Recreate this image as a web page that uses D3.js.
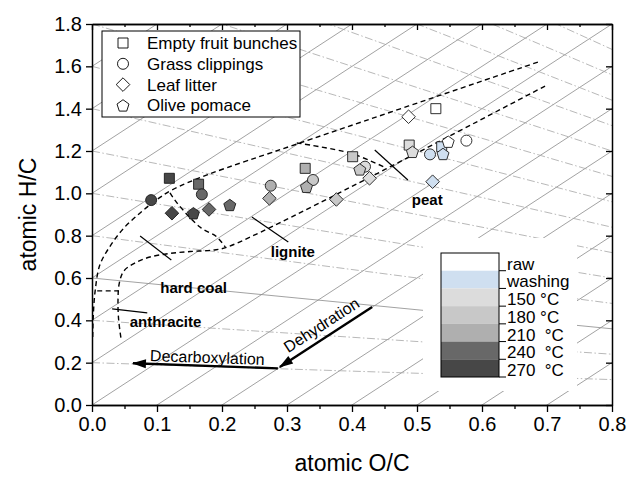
<!DOCTYPE html>
<html>
<head>
<meta charset="UTF-8">
<script src="https://d3js.org/d3.v7.min.js"></script>
<style>
  body { margin: 0; background: #fff; }
  svg text { font-family: "Liberation Sans", Arial, sans-serif; }
</style>
<title>van Krevelen diagram</title>
</head>
<body>
<div id="chart"></div>
<script>

// ---- data ----
var categories = ["Empty fruit bunches", "Grass clippings", "Leaf litter", "Olive pomace"];
var treatments = ["raw", "washing", "150 \u00b0C", "180 \u00b0C", "210  \u00b0C", "240  \u00b0C", "270  \u00b0C"];

// one value per treatment, same order as treatments
var efbOC = [0.529, 0.538, 0.488, 0.401, 0.328, 0.164, 0.119];
var efbHC = [1.400, 1.220, 1.228, 1.173, 1.118, 1.043, 1.071];
var gcOC  = [0.576, 0.520, 0.420, 0.340, 0.275, 0.169, 0.091];
var gcHC  = [1.249, 1.184, 1.126, 1.063, 1.036, 0.995, 0.968];
var llOC  = [0.487, 0.524, 0.427, 0.376, 0.273, 0.180, 0.123];
var llHC  = [1.362, 1.055, 1.071, 0.971, 0.976, 0.924, 0.906];
var opOC  = [0.548, 0.540, 0.493, 0.412, 0.330, 0.212, 0.156];
var opHC  = [1.244, 1.186, 1.196, 1.113, 1.031, 0.945, 0.906];

var xTicks = [0.0, 0.1, 0.2, 0.3, 0.4, 0.5, 0.6, 0.7, 0.8];
var xMinorTicks = [0.05, 0.15, 0.25, 0.35, 0.45, 0.55, 0.65, 0.75];
var yTicks = [0.0, 0.2, 0.4, 0.6, 0.8, 1.0, 1.2, 1.4, 1.6, 1.8];

// reference lines : H/C = 2*O/C + c (dehydration) and H/C = h0*(1 - O/C/2)
var dehydIntercepts = [-1.4, -1.2, -1.0, -0.8, -0.6, -0.4, -0.2, 0.0, 0.2, 0.4, 0.6, 0.8, 1.0, 1.2, 1.4, 1.6, 1.8];
var decarbStarts = [0.2, 0.4, 0.6, 0.8, 1.0, 1.2, 1.4, 1.6, 1.8, 2.0, 2.2, 2.4, 2.6, 2.8, 3.0];

// coal band boundaries (dashed)
var upperOC = [0.686, 0.320, 0.177, 0.123, 0.097, 0.074, 0.049, 0.028, 0.012, 0.005, 0.002, 0.001];
var upperHC = [1.620, 1.238, 1.087, 1.016, 0.964, 0.907, 0.836, 0.751, 0.661, 0.543, 0.425, 0.307];
var lowerOC = [0.697, 0.208, 0.186, 0.151, 0.120, 0.089, 0.066, 0.049, 0.042, 0.040, 0.041, 0.045];
var lowerHC = [1.507, 0.746, 0.732, 0.725, 0.716, 0.699, 0.671, 0.633, 0.576, 0.496, 0.402, 0.307];
var peatDivOC = [0.315, 0.397, 0.449];
var peatDivHC = [1.238, 1.190, 1.125];
var ligDivOC = [0.120, 0.131, 0.166, 0.192, 0.205];
var ligDivHC = [1.002, 0.954, 0.841, 0.794, 0.746];
var hardDivOC = [0.008, 0.040];
var hardDivHC = [0.539, 0.539];

var regionNames = ["peat", "lignite", "hard coal", "anthracite"];
var regionLabelOC = [0.492, 0.275, 0.105, 0.058];
var regionLabelHC = [0.943, 0.700, 0.527, 0.368];
var leaderFromOC = [0.435, 0.246, 0.074, 0.031];
var leaderFromHC = [1.205, 0.888, 0.798, 0.454];
var leaderToOC = [0.486, 0.302, 0.122, 0.085];
var leaderToHC = [1.063, 0.770, 0.685, 0.435];

// reaction arrows
var decarbArrowOC = [0.286, 0.063];
var decarbArrowHC = [0.173, 0.197];
var dehydArrowOC = [0.431, 0.289];
var dehydArrowHC = [0.463, 0.180];

// ---- chart ----
var width = 630, height = 478;
var margin = {top: 24, right: 18, bottom: 73, left: 92};
var fontFam = "'Liberation Sans', Arial, sans-serif";

var x = d3.scaleLinear().domain([0, 0.8]).range([margin.left, width - margin.right]);
var y = d3.scaleLinear().domain([0, 1.8]).range([height - margin.bottom, margin.top]);

var fillColor = d3.scaleOrdinal()
	.domain(treatments)
	.range(["#ffffff", "#cfdff0", "#dcdcdc", "#c8c8c8", "#afafaf", "#686868", "#474747"]);

var shape = d3.scaleOrdinal()
	.domain(categories)
	.range(["square", "circle", "diamond", "pentagon"]);

function symbolPath(kind) {
	if (kind == "square") return "M-5,-5h10v10h-10Z";
	if (kind == "circle") return "M5.5,0A5.5,5.5 0 1,1 -5.5,0A5.5,5.5 0 1,1 5.5,0Z";
	if (kind == "diamond") return "M0,-6.8L6.8,0L0,6.8L-6.8,0Z";
	var pts = d3.range(5).map(function(k) {
		var a = (-90 + 72 * k) * Math.PI / 180;
		return [6.3 * Math.cos(a), 6.3 * Math.sin(a) + 0.6];
	});
	return "M" + pts.join("L") + "Z";
}

var svg = d3.select("#chart").append("svg")
	.attr("width", width)
	.attr("height", height)
	.style("display", "block");

var defs = svg.append("defs");
defs.append("clipPath").attr("id", "plotClip")
	.append("rect")
	.attr("x", x(0)).attr("y", y(1.8))
	.attr("width", x(0.8) - x(0)).attr("height", y(0) - y(1.8));

defs.append("marker")
	.attr("id", "arrowHead")
	.attr("markerUnits", "userSpaceOnUse")
	.attr("viewBox", "0 0 14 10")
	.attr("refX", 13).attr("refY", 5)
	.attr("markerWidth", 15).attr("markerHeight", 10)
	.attr("orient", "auto")
	.append("path")
	.attr("d", "M0,0.5L14,5L0,9.5Z")
	.attr("fill", "#000");

var line = d3.line().x(function(d) { return x(d[0]); }).y(function(d) { return y(d[1]); });
var smooth = d3.line().x(function(d) { return x(d[0]); }).y(function(d) { return y(d[1]); })
	.curve(d3.curveCatmullRom.alpha(0.5));

function zipPts(a, b) { return a.map(function(v, i) { return [v, b[i]]; }); }

// reference grid
var grid = svg.append("g").attr("clip-path", "url(#plotClip)");

dehydIntercepts.forEach(function(c) {
	grid.append("path")
		.attr("d", line([[-0.2, -0.4 + c], [1.0, 2.0 + c]]))
		.attr("fill", "none")
		.attr("stroke", "#8a8a8a")
		.attr("stroke-width", 0.8);
});

decarbStarts.forEach(function(h0) {
	grid.append("path")
		.attr("d", line([[0, h0], [0.9, h0 * (1 - 0.9 / 2)]]))
		.attr("fill", "none")
		.attr("stroke", h0 == 0.6 ? "#8a8a8a" : "#a6a6a6")
		.attr("stroke-width", 0.8)
		.attr("stroke-dasharray", h0 == 0.6 ? null : "8,2.5,1.5,2.5");
});

// coal band boundaries
var bands = svg.append("g")
	.attr("fill", "none")
	.attr("stroke", "#000")
	.attr("stroke-width", 1.4)
	.attr("stroke-dasharray", "5,3.5");

bands.append("path").attr("d", smooth(zipPts(upperOC, upperHC)));
bands.append("path").attr("d", smooth(zipPts(lowerOC, lowerHC)));
bands.append("path").attr("d", smooth(zipPts(peatDivOC, peatDivHC)));
bands.append("path").attr("d", smooth(zipPts(ligDivOC, ligDivHC)));
bands.append("path").attr("d", line(zipPts(hardDivOC, hardDivHC)));

// region labels and leaders
var regions = svg.append("g");
regionNames.forEach(function(name, i) {
	regions.append("line")
		.attr("x1", x(leaderFromOC[i])).attr("y1", y(leaderFromHC[i]))
		.attr("x2", x(leaderToOC[i])).attr("y2", y(leaderToHC[i]))
		.attr("stroke", "#000")
		.attr("stroke-width", 1.2);
	regions.append("text")
		.attr("x", x(regionLabelOC[i]))
		.attr("y", y(regionLabelHC[i]))
		.attr("font-size", "15px")
		.attr("font-weight", "bold")
		.text(name);
});

// reaction arrows
var arrows = svg.append("g");
arrows.append("line")
	.attr("x1", x(decarbArrowOC[0])).attr("y1", y(decarbArrowHC[0]))
	.attr("x2", x(decarbArrowOC[1])).attr("y2", y(decarbArrowHC[1]))
	.attr("stroke", "#000").attr("stroke-width", 2.4)
	.attr("marker-end", "url(#arrowHead)");
arrows.append("line")
	.attr("x1", x(dehydArrowOC[0])).attr("y1", y(dehydArrowHC[0]))
	.attr("x2", x(dehydArrowOC[1])).attr("y2", y(dehydArrowHC[1]))
	.attr("stroke", "#000").attr("stroke-width", 2.4)
	.attr("marker-end", "url(#arrowHead)");

var decarbAngle = Math.atan2(y(decarbArrowHC[0]) - y(decarbArrowHC[1]), x(decarbArrowOC[0]) - x(decarbArrowOC[1])) * 180 / Math.PI;
var dehydAngle = Math.atan2(y(dehydArrowHC[0]) - y(dehydArrowHC[1]), x(dehydArrowOC[0]) - x(dehydArrowOC[1])) * 180 / Math.PI;

arrows.append("text")
	.attr("transform", "translate(" + x(0.089) + "," + y(0.208) + ") rotate(" + decarbAngle + ")")
	.attr("font-size", "16px")
	.text("Decarboxylation");
arrows.append("text")
	.attr("transform", "translate(" + x(0.302) + "," + y(0.245) + ") rotate(" + dehydAngle + ")")
	.attr("font-size", "16px")
	.text("Dehydration");

// scatter points
var seriesOC = [efbOC, gcOC, llOC, opOC];
var seriesHC = [efbHC, gcHC, llHC, opHC];
var points = [];
categories.forEach(function(cat, s) {
	treatments.forEach(function(t, i) {
		points.push({cat: cat, treat: t, oc: seriesOC[s][i], hc: seriesHC[s][i]});
	});
});

svg.append("g").selectAll("path")
	.data(points)
	.enter()
	.append("path")
	.attr("transform", function(d) { return "translate(" + x(d.oc) + "," + y(d.hc) + ")"; })
	.attr("d", function(d) { return symbolPath(shape(d.cat)); })
	.attr("fill", function(d) { return fillColor(d.treat); })
	.attr("stroke", "#1a1a1a")
	.attr("stroke-width", 0.9);

// axes
function styleAxis(g) {
	g.attr("font-family", fontFam).attr("font-size", "20px");
	g.select(".domain").attr("stroke-width", 1.5);
	g.selectAll(".tick line").attr("stroke-width", 1.3);
	g.selectAll(".tick text").attr("fill", "#000");
}

svg.append("g")
	.attr("transform", "translate(0," + y(0) + ")")
	.call(d3.axisBottom(x).tickValues(xMinorTicks).tickSize(4).tickFormat("").tickSizeOuter(0))
	.call(styleAxis);
svg.append("g")
	.attr("transform", "translate(0," + y(0) + ")")
	.call(d3.axisBottom(x).tickValues(xTicks).tickSize(7).tickPadding(5).tickSizeOuter(0).tickFormat(d3.format(".1f")))
	.call(styleAxis);

svg.append("g")
	.attr("transform", "translate(0," + y(1.8) + ")")
	.call(d3.axisBottom(x).tickValues(xMinorTicks).tickSize(3).tickFormat("").tickSizeOuter(0))
	.call(styleAxis);
svg.append("g")
	.attr("transform", "translate(0," + y(1.8) + ")")
	.call(d3.axisBottom(x).tickValues(xTicks).tickSize(6).tickFormat("").tickSizeOuter(0))
	.call(styleAxis);

svg.append("g")
	.attr("transform", "translate(" + x(0) + ",0)")
	.call(d3.axisLeft(y).tickValues(yTicks).tickSize(6).tickPadding(4).tickSizeOuter(0).tickFormat(d3.format(".1f")))
	.call(styleAxis);
svg.append("g")
	.attr("transform", "translate(" + x(0.8) + ",0)")
	.call(d3.axisLeft(y).tickValues(yTicks).tickSize(6).tickFormat("").tickSizeOuter(0))
	.call(styleAxis);

svg.append("text")
	.attr("x", (x(0) + x(0.8)) / 2)
	.attr("y", 471)
	.attr("text-anchor", "middle")
	.attr("font-size", "23px")
	.text("atomic O/C");
svg.append("text")
	.attr("transform", "translate(36," + (y(0) + y(1.8)) / 2 + ") rotate(-90)")
	.attr("text-anchor", "middle")
	.attr("font-size", "23px")
	.text("atomic H/C");

// legend (shapes)
var legend = svg.append("g").attr("transform", "translate(102,31)");
legend.append("rect")
	.attr("width", 198).attr("height", 86)
	.attr("fill", "#fff").attr("stroke", "#000").attr("stroke-width", 1);
categories.forEach(function(cat, i) {
	var row = legend.append("g").attr("transform", "translate(21," + (12 + i * 20.8) + ")");
	row.append("path")
		.attr("d", symbolPath(shape(cat)))
		.attr("fill", "#fff").attr("stroke", "#000").attr("stroke-width", 0.9);
	row.append("text")
		.attr("x", 24).attr("y", 6)
		.attr("font-size", "17px")
		.text(cat);
});

// legend (treatment colour scale)
var scaleBox = svg.append("g");
scaleBox.append("rect")
	.attr("x", 423).attr("y", 238).attr("width", 154).attr("height", 153)
	.attr("fill", "#fff");

var band = d3.scaleBand().domain(treatments).range([253, 377]);
scaleBox.selectAll(".band")
	.data(treatments)
	.enter().append("rect")
	.attr("class", "band")
	.attr("x", 441).attr("width", 58)
	.attr("y", function(d) { return band(d); })
	.attr("height", band.bandwidth())
	.attr("fill", function(d) { return fillColor(d); });
scaleBox.append("rect")
	.attr("x", 441).attr("y", 253).attr("width", 58).attr("height", 124)
	.attr("fill", "none").attr("stroke", "#000").attr("stroke-width", 1);
scaleBox.selectAll(".btick")
	.data(treatments)
	.enter().append("line")
	.attr("x1", 499).attr("x2", 506)
	.attr("y1", function(d) { return band(d) + band.bandwidth(); })
	.attr("y2", function(d) { return band(d) + band.bandwidth(); })
	.attr("stroke", "#000").attr("stroke-width", 1);
scaleBox.selectAll(".blabel")
	.data(treatments)
	.enter().append("text")
	.attr("x", 507)
	.attr("y", function(d) { return band(d) + band.bandwidth() - 1; })
	.attr("font-size", "17px")
	.style("white-space", "pre")
	.text(function(d) { return d; });

</script>
</body>
</html>
